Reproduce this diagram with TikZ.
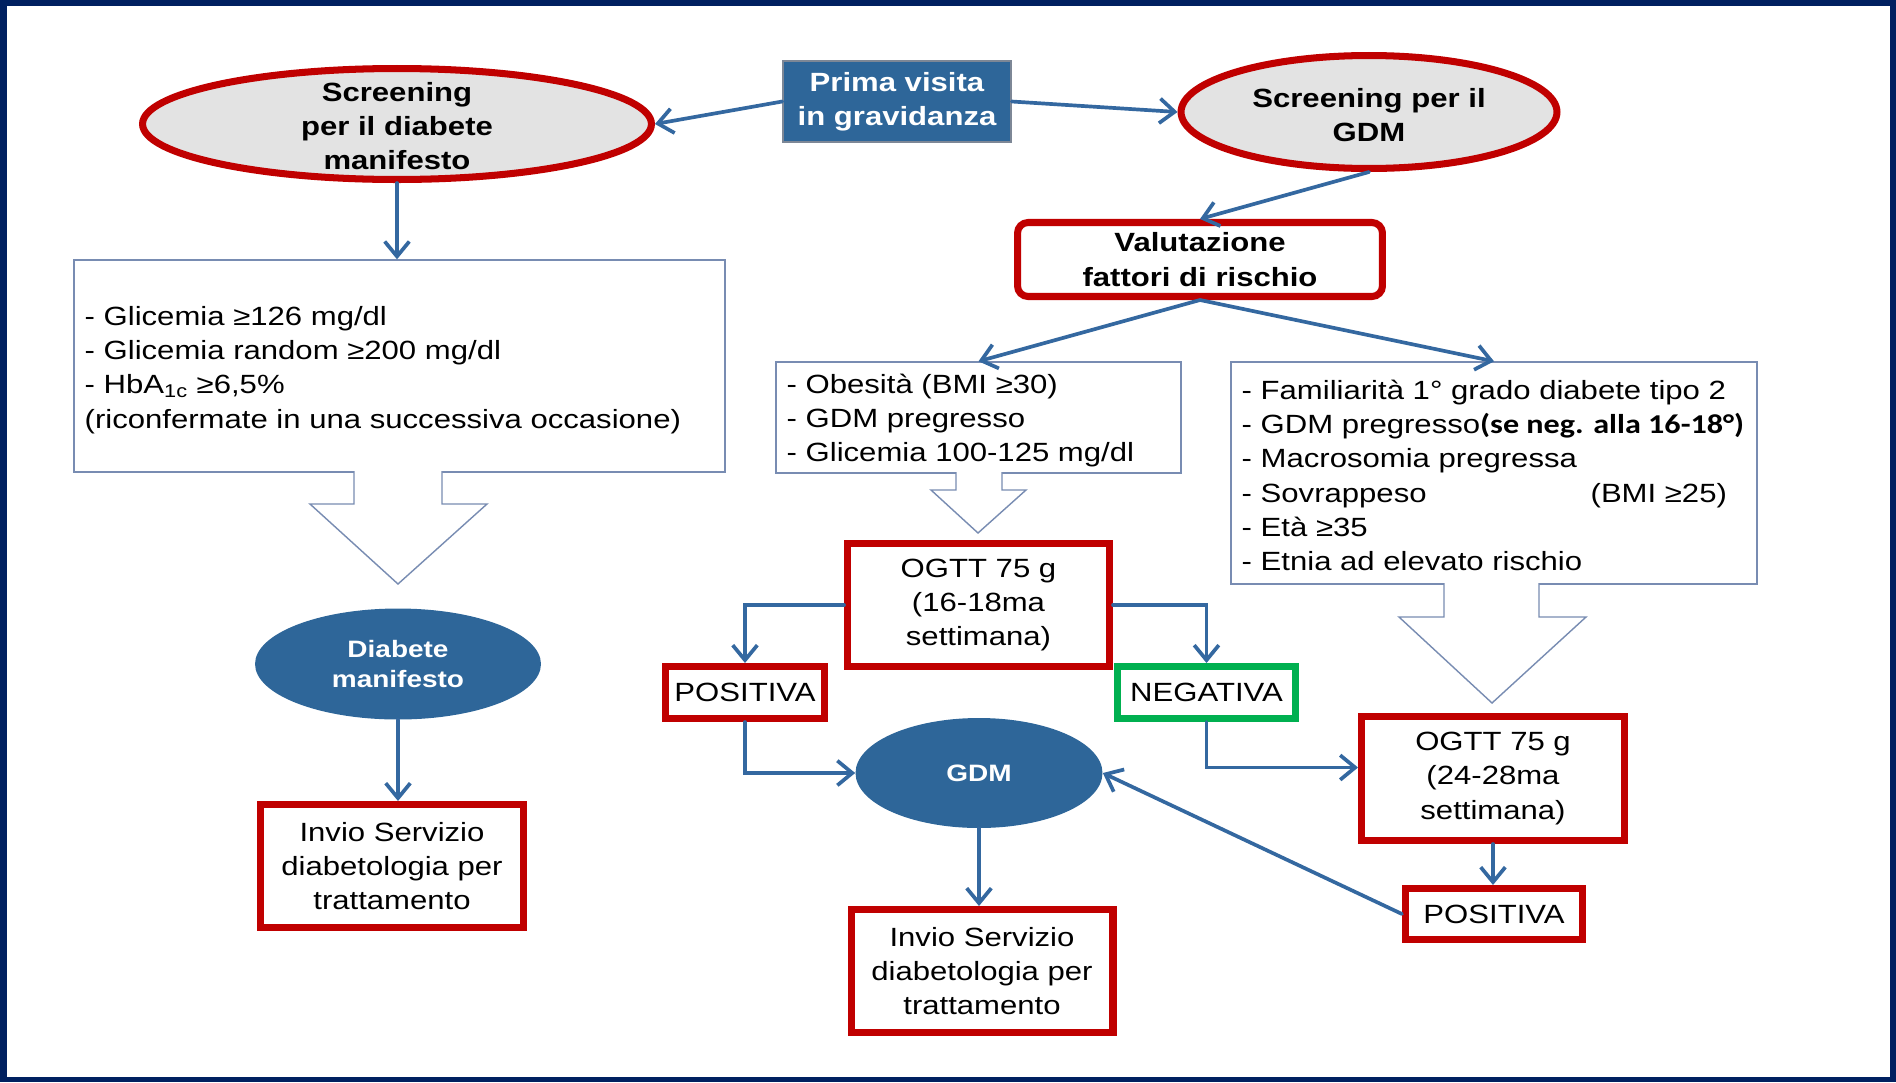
\documentclass[tikz,border=0pt]{standalone}
\usepackage{fontspec}
\setmainfont{Liberation Sans}[FakeStretch=1.18]
\newfontfamily\calibrifont{Carlito}[FakeStretch=1.18]
\usetikzlibrary{shapes.geometric,arrows.meta}

\definecolor{framenavy}{RGB}{0,32,96}
\definecolor{redc}{RGB}{192,0,0}
\definecolor{greenc}{RGB}{0,176,80}
\definecolor{bluec}{RGB}{46,102,153}
\definecolor{arrowc}{RGB}{52,104,160}
\definecolor{ellgrey}{RGB}{227,227,227}
\definecolor{listline}{RGB}{120,140,178}

\newcommand{\bodyfont}{\fontsize{15}{19.5}\selectfont}
\newcommand{\ellfont}{\fontsize{13.5}{17}\selectfont\bfseries}

\begin{document}
\begin{tikzpicture}[x=0.02cm,y=-0.02cm,font=\bodyfont,
  redbox/.style={draw=redc,line width=4pt,fill=white,align=center,inner sep=0pt},
  greenbox/.style={redbox,draw=greenc},
  greyell/.style={ellipse,draw=redc,line width=4pt,fill=ellgrey,inner sep=0pt},
  blueell/.style={ellipse,fill=bluec,inner sep=0pt},
  listbox/.style={draw=listline,line width=0.8pt,fill=white,inner sep=0pt},
  listtext/.style={align=left,anchor=west,inner sep=0pt},
  blockarrow/.style={draw=listline,line width=0.8pt,fill=white},
  conn/.style={draw=arrowc,line width=2.1pt,line cap=round,-{Straight Barb[length=8.5pt,width=14pt]}}]

  \useasboundingbox (0,0) rectangle (1896,1082);
  \fill[framenavy] (0,0) rectangle (1896,1082);
  \fill[white] (7,6) rectangle (1890,1077);

  % top row
  \node[fill=bluec,draw={rgb,255:red,125;green,135;blue,150},line width=0.8pt,
        minimum width=4.56cm,minimum height=1.62cm,align=center,text=white,
        font=\bodyfont\bfseries,inner sep=0pt] (prima) at (897,101.5) {Prima visita\\in gravidanza};
  \node[greyell,minimum width=10.18cm,minimum height=2.22cm] (scrd) at (397,124) {};
  \node[align=center,font=\bodyfont\bfseries] (scrdtxt) at ([yshift=-0.04cm]scrd) {Screening\\per il diabete\\manifesto};
  \node[greyell,minimum width=7.52cm,minimum height=2.26cm] (scrg) at (1369,112) {};
  \node[align=center,font=\bodyfont\bfseries] (scrgtxt) at ([yshift=-0.06cm]scrg) {Screening per il\\GDM};
  \node[redbox,rounded corners=6pt,minimum width=7.3cm,minimum height=1.48cm,
        font=\bodyfont\bfseries] (val) at (1200,259.5) {Valutazione\\fattori di rischio};

  % left column
  \node[listbox,minimum width=13.02cm,minimum height=4.24cm] (crit) at (399.5,366) {};
  \node[listtext] (crittxt) at ([xshift=0.22cm,yshift=-0.08cm]crit.west)
    {- Glicemia ≥126 mg/dl\\
     - Glicemia random ≥200 mg/dl\\
     - HbA\textsubscript{1c} ≥6,5\%\\
     (riconfermate in una successiva occasione)};
  \draw[blockarrow] (354,471) -- (354,504) -- (310,504) -- (398,584) -- (487,504) -- (442,504) -- (442,471);
  \node[blueell,minimum width=5.72cm,minimum height=2.22cm,text=white,align=center,
        font=\ellfont] (diab) at (398,664) {Diabete\\manifesto};
  \node[redbox,minimum width=5.26cm,minimum height=2.46cm] (inv1) at (392,866)
    {Invio Servizio\\diabetologia per\\trattamento};

  % risk boxes
  \node[listbox,minimum width=8.1cm,minimum height=2.22cm] (risk1) at (978.5,417.5) {};
  \node[listtext] (risk1txt) at ([xshift=0.22cm,yshift=-0.06cm]risk1.west)
    {- Obesità (BMI ≥30)\\
     - GDM pregresso\\
     - Glicemia 100-125 mg/dl};
  \draw[blockarrow] (956,472) -- (956,490) -- (931,490) -- (978,533) -- (1026,490) -- (1002,490) -- (1002,472);

  \node[listbox,minimum width=10.52cm,minimum height=4.44cm] (risk2) at (1494,473) {};
  \node[listtext] (risk2txt) at ([xshift=0.22cm,yshift=-0.05cm]risk2.west)
    {- Familiarità 1° grado diabete tipo 2\\
     - GDM pregresso{\calibrifont\fontsize{15.5}{19.5}\selectfont\bfseries(se neg. alla 16-18°)}\\
     - Macrosomia pregressa\\
     \makebox[6.98cm][l]{- Sovrappeso}(BMI ≥25)\\
     - Età ≥35\\
     - Etnia ad elevato rischio};
  \draw[blockarrow] (1444,583) -- (1444,617) -- (1399,617) -- (1492,703) -- (1586,617) -- (1539,617) -- (1539,583);

  % OGTT part
  \node[redbox,minimum width=5.24cm,minimum height=2.46cm] (ogtt1) at (978.5,605)
    {OGTT 75 g\\(16-18ma\\settimana)};
  \node[redbox,minimum width=3.18cm,minimum height=1.04cm] (pos1) at (745,692.5) {POSITIVA};
  \node[greenbox,minimum width=3.56cm,minimum height=1.04cm] (neg) at (1206.5,692.5) {NEGATIVA};
  \node[blueell,minimum width=4.94cm,minimum height=2.2cm,text=white,font=\ellfont] (gdm) at (979,773) {GDM};
  \node[redbox,minimum width=5.26cm,minimum height=2.48cm] (ogtt2) at (1493,778.5)
    {OGTT 75 g\\(24-28ma\\settimana)};
  \node[redbox,minimum width=3.54cm,minimum height=1.02cm] (pos2) at (1494,914) {POSITIVA};
  \node[redbox,minimum width=5.24cm,minimum height=2.46cm] (inv2) at (982,971)
    {Invio Servizio\\diabetologia per\\trattamento};

  % connectors
  \draw[conn] (prima.west) -- (scrd.east);
  \draw[conn] (prima.east) -- (scrg.west);
  \draw[conn] (scrg.south) -- (val.north);
  \draw[conn] (val.south) -- (risk1.north);
  \draw[conn] (val.south) -- (risk2.north);
  \draw[conn] (scrd.south) -- (scrd.south |- crit.north);
  \draw[conn] (diab.south) -- (diab.south |- inv1.north);
  \draw[conn] (ogtt1.west) -| (pos1.north);
  \draw[conn] (ogtt1.east) -| (neg.north);
  \draw[conn] (pos1.south) |- (gdm.west);
  \draw[conn] (neg.south) |- ([yshift=0.22cm]ogtt2.west);
  \draw[conn] (ogtt2.south) -- (ogtt2.south |- pos2.north);
  \draw[conn] (pos2.west) -- (gdm.east);
  \draw[conn] (gdm.south) -- (gdm.south |- inv2.north);
\end{tikzpicture}
\end{document}
